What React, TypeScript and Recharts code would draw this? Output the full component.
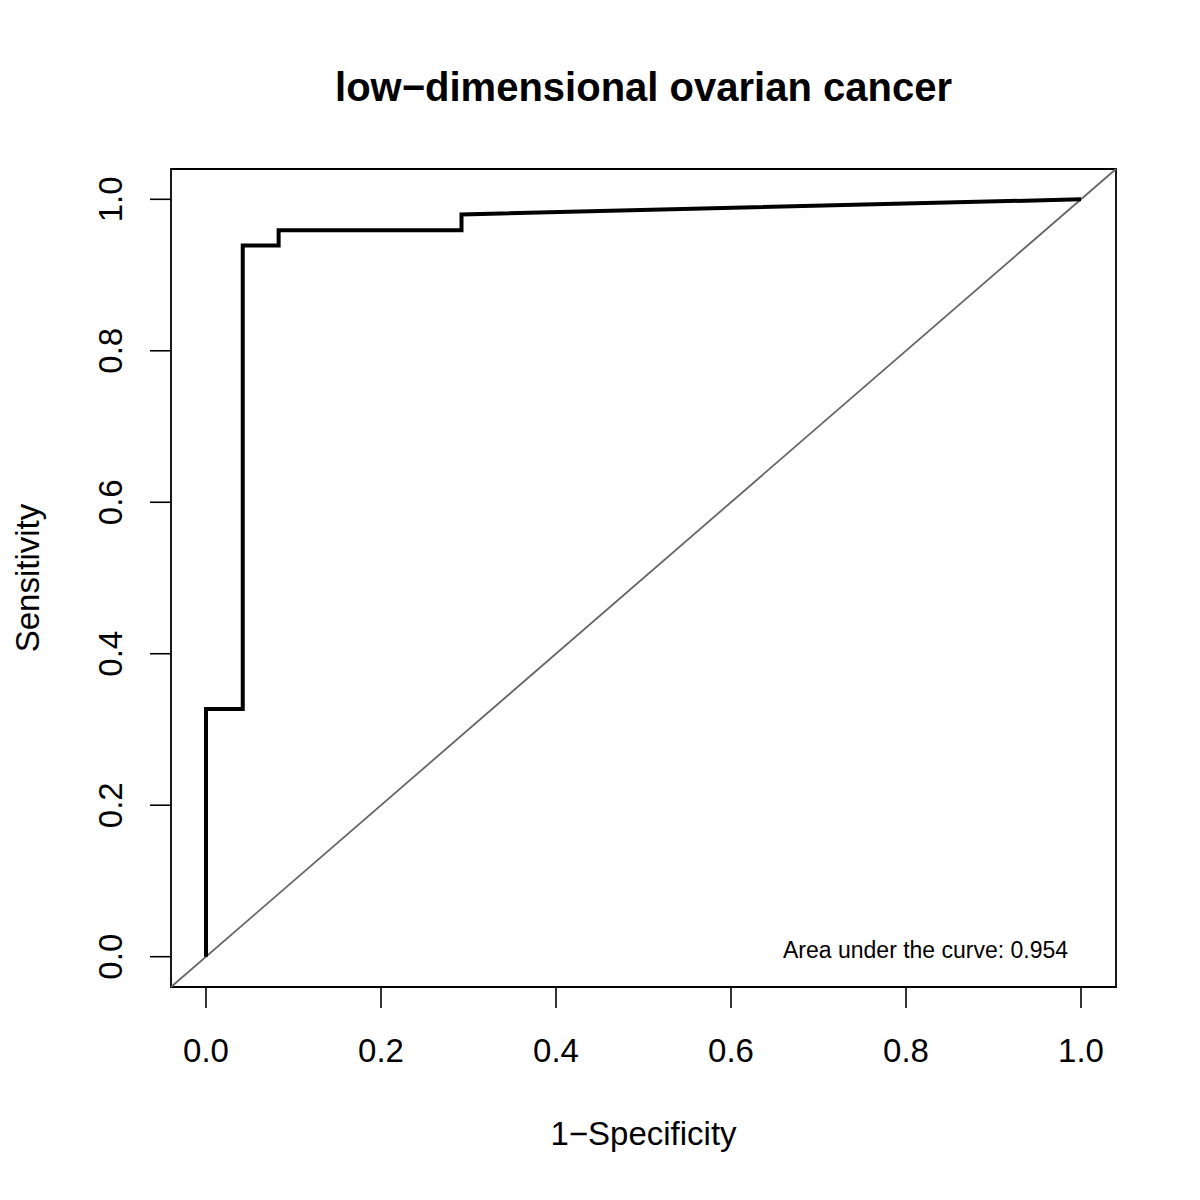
import React from "react";
import { LineChart, Line, XAxis, YAxis, ReferenceArea, ReferenceLine } from "recharts";

// ROC curve points
const fprValues = [0, 0, 0.042, 0.042, 0.083, 0.083, 0.292, 0.292, 1.0];
const tprValues = [0, 0.327, 0.327, 0.939, 0.939, 0.959, 0.959, 0.98, 1.0];
const xTicks = [0, 0.2, 0.4, 0.6, 0.8, 1.0];
const yTicks = [0, 0.2, 0.4, 0.6, 0.8, 1.0];
const axisDomain: [number, number] = [-0.04, 1.04];
const titleText = "low\u2212dimensional ovarian cancer";
const xLabelText = "1\u2212Specificity";
const yLabelText = "Sensitivity";
const aucText = "Area under the curve: 0.954";

const rocData = fprValues.map((fpr, i) => ({ fpr, tpr: tprValues[i] }));

const FONT = "'Liberation Sans', Arial, Helvetica, sans-serif";

const XTick = (props: any) => {
  const { x, y, payload } = props;
  return (
    <text x={x} y={y + 54} textAnchor="middle" fontFamily={FONT} fontSize={33} fill="#000">
      {Number(payload.value).toFixed(1)}
    </text>
  );
};

const YTick = (props: any) => {
  const { x, y, payload } = props;
  const bx = x - 28;
  return (
    <text
      x={bx}
      y={y}
      textAnchor="middle"
      transform={`rotate(-90, ${bx}, ${y})`}
      fontFamily={FONT}
      fontSize={33}
      fill="#000"
    >
      {Number(payload.value).toFixed(1)}
    </text>
  );
};

export default function App() {
  return (
    <div style={{ position: "absolute", left: 0, top: 0, width: 1200, height: 1200, background: "#fff" }}>
      <LineChart
        width={1200}
        height={1200}
        data={rocData}
        margin={{ top: 169, right: 84, bottom: 163, left: 111 }}
      >
        <XAxis
          dataKey="fpr"
          type="number"
          domain={axisDomain}
          ticks={xTicks}
          interval={0}
          allowDataOverflow
          axisLine={false}
          tickSize={21}
          tickMargin={0}
          tickLine={{ stroke: "#000", strokeWidth: 1.6 }}
          tick={<XTick />}
          height={50}
        />
        <YAxis
          type="number"
          domain={axisDomain}
          ticks={yTicks}
          interval={0}
          allowDataOverflow
          axisLine={false}
          tickSize={21}
          tickMargin={0}
          tickLine={{ stroke: "#000", strokeWidth: 1.6 }}
          tick={<YTick />}
          width={60}
        />
        <ReferenceLine
          segment={[
            { x: axisDomain[0], y: axisDomain[0] },
            { x: axisDomain[1], y: axisDomain[1] },
          ]}
          stroke="#666"
          strokeWidth={1.8}
          ifOverflow="visible"
        />
        <Line
          type="linear"
          dataKey="tpr"
          stroke="#000"
          strokeWidth={4}
          dot={false}
          activeDot={false}
          isAnimationActive={false}
        />
        <ReferenceArea
          x1={axisDomain[0]}
          x2={axisDomain[1]}
          y1={axisDomain[0]}
          y2={axisDomain[1]}
          fill="none"
          fillOpacity={0}
          stroke="#000"
          strokeWidth={1.8}
          ifOverflow="visible"
        />
      </LineChart>
      <svg
        width={1200}
        height={1200}
        style={{ position: "absolute", left: 0, top: 0, pointerEvents: "none" }}
      >
        <text x={643.5} y={101} textAnchor="middle" fontFamily={FONT} fontWeight="bold" fontSize={40} fill="#000">
          {titleText}
        </text>
        <text x={643.5} y={1145} textAnchor="middle" fontFamily={FONT} fontSize={33} fill="#000">
          {xLabelText}
        </text>
        <text
          x={39}
          y={578}
          textAnchor="middle"
          transform="rotate(-90, 39, 578)"
          fontFamily={FONT}
          fontSize={33}
          fill="#000"
        >
          {yLabelText}
        </text>
        <text x={783} y={958} textAnchor="start" fontFamily={FONT} fontSize={23} fill="#000">
          {aucText}
        </text>
      </svg>
    </div>
  );
}
